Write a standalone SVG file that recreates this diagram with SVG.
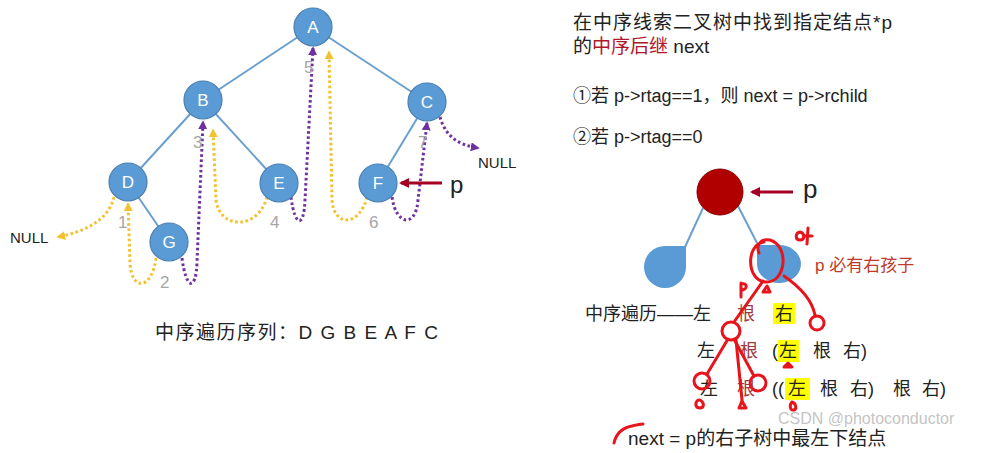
<svg xmlns="http://www.w3.org/2000/svg" width="997" height="453" viewBox="0 0 997 453">
<defs>
<style>
.edge{stroke:#6a9fd0;stroke-width:2;fill:none}
.node circle{fill:#5b9bd5;stroke:#4a7fb0;stroke-width:1.2}
.nl{font-family:"Liberation Sans","Noto Sans CJK SC",sans-serif;font-size:17px;fill:#fff;text-anchor:middle}
.num{font-family:"Liberation Sans",sans-serif;font-size:17px;fill:#a6a6a6}
.t{font-family:"Liberation Sans","Noto Sans CJK SC",sans-serif;fill:#222}
.yd{stroke:#f2c12e;stroke-width:3;stroke-dasharray:2.6 2.6;fill:none}
.pd{stroke:#7030a0;stroke-width:3;stroke-dasharray:2.6 2.6;fill:none}
.hand{stroke:#e8141c;stroke-width:3;fill:none;stroke-linecap:round;stroke-linejoin:round}
.hl{fill:#ffff00}
.rt{fill:#9b3b3b}
</style>
<marker id="ay" viewBox="0 0 10 10" refX="8" refY="5" markerWidth="9" markerHeight="9" markerUnits="userSpaceOnUse" orient="auto"><path d="M0,0 L10,5 L0,10 z" fill="#f2c12e"/></marker>
<marker id="ap" viewBox="0 0 10 10" refX="8" refY="5" markerWidth="9" markerHeight="9" markerUnits="userSpaceOnUse" orient="auto"><path d="M0,0 L10,5 L0,10 z" fill="#7030a0"/></marker>
<marker id="ar" viewBox="0 0 10 10" refX="8" refY="5" markerWidth="10" markerHeight="10" markerUnits="userSpaceOnUse" orient="auto"><path d="M0,0 L10,5 L0,10 z" fill="#a50021"/></marker>
</defs>
<rect width="997" height="453" fill="#fff"/>

<g id="connectors">
<line class="edge" x1="313" y1="27" x2="203" y2="100"/>
<line class="edge" x1="313" y1="27" x2="427" y2="102"/>
<line class="edge" x1="203" y1="100" x2="128" y2="182"/>
<line class="edge" x1="203" y1="100" x2="279" y2="183"/>
<line class="edge" x1="427" y1="102" x2="378" y2="183"/>
<line class="edge" x1="128" y1="182" x2="169" y2="242"/>
<path class="yd" d="M114,197 C108,222 82,232 58,237" marker-end="url(#ay)"/>
<path class="yd" d="M156,258 C152,290 131,292 130,262 L128,204" marker-end="url(#ay)"/>
<path class="yd" d="M267,197 C258,230 220,230 216,200 L213,130" marker-end="url(#ay)"/>
<path class="yd" d="M367,197 C360,226 334,228 332,200 L329,52" marker-end="url(#ay)"/>
<path class="pd" d="M182,258 C186,290 196,292 197,262 L203,122" marker-end="url(#ap)"/>
<path class="pd" d="M291,197 C295,228 304,228 305,200 L313,48" marker-end="url(#ap)"/>
<path class="pd" d="M392,197 C396,226 416,228 418,200 L427,123" marker-end="url(#ap)"/>
<path class="pd" d="M440,117 C446,138 460,145 478,148" marker-end="url(#ap)"/>
<line x1="442" y1="183" x2="401" y2="183" stroke="#a50021" stroke-width="3" marker-end="url(#ar)"/>
<line x1="703" y1="208" x2="685" y2="247" class="edge" stroke-width="3"/>
<line x1="738" y1="206" x2="757" y2="243" class="edge" stroke-width="3"/>
<line x1="793" y1="192" x2="752" y2="192" stroke="#a50021" stroke-width="3" marker-end="url(#ar)"/>
</g>

<g id="node-A" class="node"><circle cx="313" cy="27" r="19"/><text class="nl" x="313" y="33">A</text></g>
<g id="node-B" class="node"><circle cx="203" cy="100" r="19"/><text class="nl" x="203" y="106">B</text></g>
<g id="node-C" class="node"><circle cx="427" cy="102" r="19"/><text class="nl" x="427" y="108">C</text></g>
<g id="node-D" class="node"><circle cx="128" cy="182" r="19"/><text class="nl" x="128" y="188">D</text></g>
<g id="node-E" class="node"><circle cx="279" cy="183" r="19"/><text class="nl" x="279" y="189">E</text></g>
<g id="node-F" class="node"><circle cx="378" cy="183" r="19"/><text class="nl" x="378" y="189">F</text></g>
<g id="node-G" class="node"><circle cx="169" cy="242" r="19"/><text class="nl" x="169" y="248">G</text></g>

<g id="numbers">
<text class="num" x="118" y="228">1</text>
<text class="num" x="160" y="288">2</text>
<text class="num" x="193" y="148">3</text>
<text class="num" x="270" y="228">4</text>
<text class="num" x="304" y="73">5</text>
<text class="num" x="369" y="228">6</text>
<text class="num" x="418" y="148">7</text>
</g>

<g id="labels-left">
<text class="t" x="10" y="243" font-size="15">NULL</text>
<text class="t" x="478" y="168" font-size="15">NULL</text>
<text class="t" x="450" y="193" font-size="24">p</text>
<text class="t" x="155" y="339" font-size="19" letter-spacing="1.5">中序遍历序列：D G B E A F C</text>
</g>

<g id="text-right">
<text class="t" x="573" y="29" font-size="19" letter-spacing="1">在中序线索二叉树中找到指定结点*p</text>
<text class="t" x="573" y="53" font-size="19">的<tspan fill="#b0182a">中序后继</tspan> next</text>
<text class="t" x="573" y="102" font-size="18">①若 p-&gt;rtag==1，则 next = p-&gt;rchild</text>
<text class="t" x="573" y="143" font-size="18">②若 p-&gt;rtag==0</text>
</g>

<g id="node-p">
<circle cx="720" cy="192" r="23" fill="#b00000" stroke="#8a0000" stroke-width="1"/>
<text class="t" x="803" y="198" font-size="26">p</text>
</g>
<g id="node-left-subtree"><path d="M686,246 L686,267 A21,21 0 1 1 665,246 Z" fill="#5b9bd5"/></g>
<g id="node-right-child"><path d="M757,245 L778,245 A22,19 0 1 1 757,265 Z" fill="#5b9bd5"/></g>

<g id="text-traversal">
<text x="815" y="271" font-size="17" font-family="Liberation Sans,Noto Sans CJK SC,sans-serif" fill="#c0392b">p 必有右孩子</text>
<rect class="hl" x="773" y="303" width="22" height="21"/>
<rect class="hl" x="778" y="340" width="21" height="22"/>
<rect class="hl" x="785" y="378" width="25" height="22"/>
<text class="t" x="585" y="320" font-size="18">中序遍历——左</text>
<text class="t rt" x="737" y="320" font-size="18">根</text>
<text class="t" x="775" y="320" font-size="18">右</text>
<text class="t" x="697" y="357" font-size="18">左</text>
<text class="t rt" x="740" y="357" font-size="18">根</text>
<text class="t" x="772" y="357" font-size="18">(</text>
<text class="t" x="779" y="357" font-size="18">左</text>
<text class="t" x="813" y="357" font-size="18">根</text>
<text class="t" x="843" y="357" font-size="18">右)</text>
<text class="t" x="700" y="395" font-size="18">左</text>
<text class="t rt" x="737" y="395" font-size="18">根</text>
<text class="t" x="772" y="395" font-size="18">((</text>
<text class="t" x="788" y="395" font-size="18">左</text>
<text class="t" x="820" y="395" font-size="18">根</text>
<text class="t" x="850" y="395" font-size="18">右)</text>
<text class="t" x="893" y="395" font-size="18">根</text>
<text class="t" x="922" y="395" font-size="18">右)</text>
<text class="t" x="628" y="445" font-size="19">next = p的右子树中最左下结点</text>
<text x="778" y="424" font-size="16" font-family="Liberation Sans,sans-serif" fill="#b8b8b8" fill-opacity="0.85">CSDN @photoconductor</text>
</g>

<g id="handwriting">
<path class="hand" d="M764,242 C746,244 746,280 765,282 C786,284 790,246 770,240 C760,238 756,246 759,253"/>
<path class="hand" d="M800,232 C795,233 795,240 800,240 C805,240 805,233 800,232 M808,228 L807,244 M804,236 L812,236"/>
<path class="hand" d="M763,292 L767,286 L770,292 Z"/>
<path class="hand" d="M741,283 L741,297 M741,284 C748,282 748,290 741,290"/>
<path class="hand" d="M763,281 L734,322"/>
<circle class="hand" cx="731" cy="331" r="9"/>
<path class="hand" d="M784,276 C800,287 812,300 815,315"/>
<circle class="hand" cx="817" cy="323" r="7"/>
<path class="hand" d="M728,339 L707,374 M734,339 L754,376"/>
<circle class="hand" cx="702" cy="381" r="8"/>
<circle class="hand" cx="758" cy="383" r="8"/>
<path class="hand" d="M736,340 L742,400"/>
<path class="hand" d="M698,400 C694,404 696,408 700,408 C704,408 705,403 700,400"/>
<path class="hand" d="M739,408 L742,401 L746,408 Z"/>
<path class="hand" d="M784,367 L788,363 L792,367 Z"/>
<path class="hand" d="M792,402 C789,405 790,411 794,410 C797,409 796,403 792,402"/>
<path class="hand" d="M614,443 C616,434 622,428 632,426 C636,425 640,424 643,424"/>
</g>
</svg>
